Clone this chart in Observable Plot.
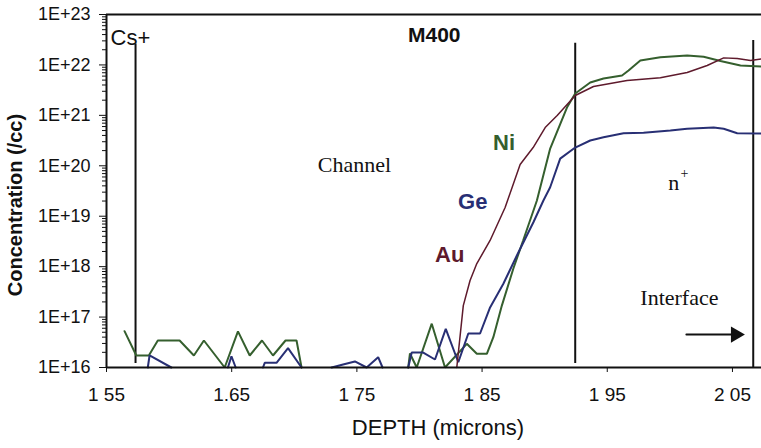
<!DOCTYPE html>
<html>
<head>
<meta charset="utf-8">
<script src="https://cdn.jsdelivr.net/npm/d3@7"></script>
<script src="https://cdn.jsdelivr.net/npm/@observablehq/plot@0.6"></script>
<style>
  html, body { margin: 0; padding: 0; background: #fff; }
  #chart svg { display: block; }
</style>
</head>
<body>
<div id="chart"></div>
<script>
// SIMS depth profile of sample M400: Ni, Ge and Au concentration vs depth.

// Ni (green)
const niDepth = [1.5644, 1.5738, 1.5838, 1.5910, 1.6004, 1.6084, 1.6198, 1.6278, 1.6444, 1.6550,
  1.6644, 1.6742, 1.6830, 1.6930, 1.7018, 1.7058, 1.75, 1.7910, 1.7924, 1.7978,
  1.8098, 1.8204, 1.8378, 1.8458, 1.8538, 1.8590, 1.8658, 1.8750, 1.8828, 1.8938,
  1.9044, 1.9178, 1.9244, 1.9364, 1.9470, 1.9618, 1.9670, 1.9764, 1.9924, 2.0138,
  2.0270, 2.0404, 2.0564, 2.0732];
const niConc = [5.25e16, 1.73e16, 1.73e16, 3.43e16, 3.43e16, 3.43e16, 1.73e16, 3.43e16, 1.0e16, 5.2e16,
  1.73e16, 3.43e16, 1.73e16, 3.43e16, 3.43e16, 1.0e16, null, 1.0e16, 1.9e16, 1.0e16,
  7.4e16, 1.0e16, 2.95e16, 1.87e16, 1.87e16, 3.99e16, 1.69e17, 9.2e17, 3.3e18, 2.05e19,
  2.2e20, 1.43e21, 2.71e21, 4.48e21, 5.37e21, 6.16e21, 7.75e21, 1.22e22, 1.42e22, 1.54e22,
  1.45e22, 1.2e22, 9.7e21, 9.3e21];

// Ge (navy)
const geDepth = [1.5830, 1.5844, 1.6018, 1.625, 1.6470, 1.6498, 1.6532, 1.665, 1.6750, 1.6764,
  1.6858, 1.6950, 1.7058, 1.718, 1.7298, 1.7390, 1.7484, 1.7578, 1.7670, 1.7705,
  1.78, 1.7910, 1.7938, 1.8030, 1.8124, 1.8210, 1.8310, 1.8390, 1.8484, 1.8564,
  1.8670, 1.8778, 1.8910, 1.8990, 1.9044, 1.9124, 1.9244, 1.9364, 1.9470, 1.9630,
  1.9790, 2.0004, 2.0138, 2.0350, 2.0430, 2.0538, 2.0732];
const geConc = [1e16, 1.73e16, 1e16, null, 1e16, 1.67e16, 1e16, null, 1e16, 1.24e16,
  1.24e16, 2.42e16, 1e16, null, 1e16, 1.15e16, 1.32e16, 1e16, 1.6e16, 1e16,
  null, 1e16, 1.98e16, 1.98e16, 1.44e16, 5.85e16, 1.27e16, 4.72e16, 4.72e16, 1.55e17,
  4.57e17, 1.66e18, 7.6e18, 2.05e19, 3.76e19, 1.39e20, 2.3e20, 3.17e20, 3.69e20, 4.43e20,
  4.51e20, 5.01e20, 5.41e20, 5.74e20, 5.41e20, 4.43e20, 4.37e20];

// Au (maroon)
const auDepth = [1.8298, 1.8350, 1.8404, 1.8458, 1.8564, 1.8684, 1.8804, 1.8908, 1.9004, 1.9100,
  1.9244, 1.9390, 1.9658, 1.9924, 2.0138, 2.0298, 2.0430, 2.0538, 2.0644, 2.0732];
const auConc = [1e16, 1.69e17, 5.3e17, 1.15e18, 3.3e18, 1.49e19, 1.06e20, 2.3e20, 5.74e20, 9.93e20,
  2.48e21, 3.74e21, 4.91e21, 5.56e21, 7.08e21, 9.75e21, 1.38e22, 1.34e22, 1.22e22, 1.32e22];

const seriesNames = ["Ni", "Ge", "Au"];
const seriesColors = ["#355f2e", "#282f74", "#5e1a2c"];

// Axes
const xTicks = [1.55, 1.65, 1.75, 1.85, 1.95, 2.05];
const xTickLabels = ["1 55", "1.65", "1 75", "1 85", "1 95", "2 05"];
const yTicks = [1e16, 1e17, 1e18, 1e19, 1e20, 1e21, 1e22, 1e23];
const yTickLabels = ["1E+16", "1E+17", "1E+18", "1E+19", "1E+20", "1E+21", "1E+22", "1E+23"];
const yMinorTicks = d3.range(16, 23).flatMap(e => d3.range(2, 10).map(m => m * Math.pow(10, e)));

// Vertical markers: Cs+ start, n+ boundary, interface
const markerDepth = [1.5732, 1.9244, 2.0666];
const markerTop = [2.6e22, 2.7e22, 3.05e22];
const markerBottom = [1.2e16, 1.2e16, 1e16];

// Annotations
const sansNotes = ["Cs+"];
const sansNoteDepth = [1.5532];
const sansNoteConc = [2.43e22];
const boldNotes = ["M400"];
const boldNoteDepth = [1.7908];
const boldNoteConc = [2.79e22];
const seriesLabelDepth = [1.8588, 1.8308, 1.8124];
const seriesLabelConc = [2.1e20, 1.42e19, 1.21e18];
const serifNotes = ["Channel", "n", "Interface"];
const serifNoteDepth = [1.7188, 1.9988, 1.9764];
const serifNoteConc = [7.7e19, 3.24e19, 1.77e17];
const supNote = ["+"];
const supDepth = [2.0084];
const supConc = [5.6e19];
const arrowDepth = [2.0132, 2.0525];
const arrowConc = [4.5e16, 4.5e16];

const rows = (xs, ys) => xs.map((d, i) => ({depth: d, conc: ys[i]}));
const series = [rows(niDepth, niConc), rows(geDepth, geConc), rows(auDepth, auConc)];
const markers = markerDepth.map((d, i) => ({depth: d, top: markerTop[i], bottom: markerBottom[i]}));

const plot = Plot.plot({
  width: 761,
  height: 448,
  marginLeft: 106,
  marginRight: 0,
  marginTop: 14,
  marginBottom: 81,
  style: {fontFamily: "'Liberation Sans', Arial, sans-serif", background: "#fff", color: "#111"},
  x: {domain: [1.55, 2.0732], label: null},
  y: {type: "log", domain: [1e16, 1e23], label: null},
  marks: [
    Plot.ruleX(markers, {x: "depth", y1: "bottom", y2: "top", stroke: "#111", strokeWidth: 2}),
    ...series.map((s, i) => Plot.line(s, {
      x: "depth", y: "conc", stroke: seriesColors[i],
      strokeWidth: i === 2 ? 1.5 : 2, strokeLinejoin: "miter"
    })),
    Plot.ruleY([1e16], {stroke: "#111", strokeWidth: 2}),
    Plot.ruleY([1e23], {stroke: "#111", strokeWidth: 2}),
    Plot.ruleX([1.55], {stroke: "#111", strokeWidth: 2}),
    Plot.axisY({ticks: yMinorTicks, tickSize: 4, tickFormat: () => "", label: null, strokeWidth: 1}),
    Plot.axisY({
      ticks: yTicks, tickSize: 7, tickPadding: 9, fontSize: 18, label: null,
      tickFormat: d => yTickLabels[yTicks.indexOf(d)]
    }),
    Plot.axisX({
      ticks: xTicks, tickSize: 5, tickPadding: 15, fontSize: 19, label: null,
      tickFormat: d => xTickLabels[xTicks.indexOf(d)]
    }),
    Plot.text(["DEPTH (microns)"], {frameAnchor: "bottom", dx: 4, dy: 67, lineAnchor: "bottom", fontSize: 22}),
    Plot.text(["Concentration (/cc)"], {
      frameAnchor: "left", dx: -91, dy: 14, rotate: -90,
      textAnchor: "middle", lineAnchor: "middle", fontSize: 20, fontWeight: "bold"
    }),
    Plot.text(sansNotes, {x: sansNoteDepth, y: sansNoteConc, text: d => d, textAnchor: "start", lineAnchor: "bottom", fontSize: 22}),
    Plot.text(boldNotes, {x: boldNoteDepth, y: boldNoteConc, text: d => d, textAnchor: "start", lineAnchor: "bottom", fontSize: 21, fontWeight: "bold"}),
    Plot.text(seriesNames, {
      x: seriesLabelDepth, y: seriesLabelConc, text: d => d,
      fill: seriesColors, textAnchor: "start", lineAnchor: "bottom", fontSize: 22, fontWeight: "bold"
    }),
    Plot.text(serifNotes, {
      x: serifNoteDepth, y: serifNoteConc, text: d => d, textAnchor: "start", lineAnchor: "bottom",
      fontSize: 22, fontFamily: "'Liberation Serif', 'Times New Roman', serif"
    }),
    Plot.text(supNote, {
      x: supDepth, y: supConc, text: d => d, textAnchor: "start", lineAnchor: "bottom",
      fontSize: 14, fontFamily: "'Liberation Serif', 'Times New Roman', serif"
    }),
    Plot.line(rows(arrowDepth, arrowConc), {x: "depth", y: "conc", stroke: "#111", strokeWidth: 2}),
    Plot.dot([arrowDepth[1]], {x: d => d, y: () => arrowConc[1], symbol: "triangle", rotate: 90, r: 6, fill: "#111", stroke: null})
  ]
});

document.getElementById("chart").appendChild(plot);
</script>
</body>
</html>
